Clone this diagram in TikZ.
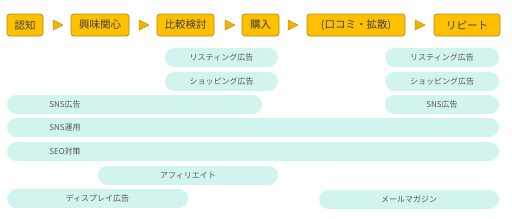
\documentclass[tikz,border=0pt]{standalone}
\usepackage{fontspec}
\setmainfont{Noto Sans CJK JP}
\newfontfamily\cjk{Noto Sans CJK JP}
\definecolor{stagefill}{HTML}{FFC000}
\definecolor{stageedge}{HTML}{B8870F}
\definecolor{arrowfill}{HTML}{F0B400}
\definecolor{arrowedge}{HTML}{C89200}
\definecolor{bandfill}{HTML}{D2F4EE}
\definecolor{bandtext}{HTML}{595959}
\definecolor{stagetext}{HTML}{404040}
\begin{document}
\begin{tikzpicture}[x=1pt,y=-1pt,
  stagebox/.style={draw=stageedge,line width=0.7pt,fill=stagefill,rounded corners=3pt},
  stagelabel/.style={text=stagetext,font=\cjk\fontsize{10.5}{12}\selectfont,inner sep=0pt},
  bandbox/.style={fill=bandfill,rounded corners=9.5pt},
  bandlabel/.style={text=bandtext,font=\cjk\fontsize{8}{9}\selectfont,inner sep=0pt},
  tri/.style={fill=arrowfill,draw=arrowedge,line width=0.5pt,line join=round}]
\useasboundingbox (0,0) rectangle (512,218);
% stages
\foreach \n/\a/\b/\t in {s1/7/43/認知, s2/71/129/興味関心, s3/157/214/比較検討, s4/242/279/購入, s5/307/405/(口コミ・拡散), s6/434/500/リピート}{
  \draw[stagebox] (\a,14) rectangle (\b,36);
  \node[stagelabel] (\n) at ({(\a+\b)/2},25) {\t};
}
% triangles
\foreach \x in {53,139,225,288,415}{
  \draw[tri] (\x,20) -- (\x+10,25) -- (\x,30) -- cycle;
}
% bands
\fill[bandbox] (165,48) rectangle (278,67);
\node[bandlabel] (b1) at (221.5,57.5) {リスティング広告};
\fill[bandbox] (385,48) rectangle (499,67);
\node[bandlabel] (b2) at (442,57.5) {リスティング広告};
\fill[bandbox] (165,72) rectangle (278,91);
\node[bandlabel] (b3) at (221.5,81.5) {ショッピング広告};
\fill[bandbox] (385,72) rectangle (499,91);
\node[bandlabel] (b4) at (442,81.5) {ショッピング広告};
\fill[bandbox] (7,95) rectangle (262,114);
\node[bandlabel] (b5) at (65,104.5) {SNS広告};
\fill[bandbox] (385,95) rectangle (499,114);
\node[bandlabel] (b6) at (442,104.5) {SNS広告};
\fill[bandbox] (7,118) rectangle (499,137);
\node[bandlabel] (b7) at (65,127.5) {SNS運用};
\fill[bandbox] (7,142) rectangle (499,161);
\node[bandlabel] (b8) at (65,151.5) {SEO対策};
\fill[bandbox] (98,166) rectangle (278,185);
\node[bandlabel] (b9) at (188,175.5) {アフィリエイト};
\fill[bandbox] (7,189) rectangle (188,208);
\node[bandlabel] (b10) at (97.5,198.5) {ディスプレイ広告};
\fill[bandbox] (319,190) rectangle (499,209);
\node[bandlabel] (b11) at (409,199.5) {メールマガジン};
\end{tikzpicture}
\end{document}
